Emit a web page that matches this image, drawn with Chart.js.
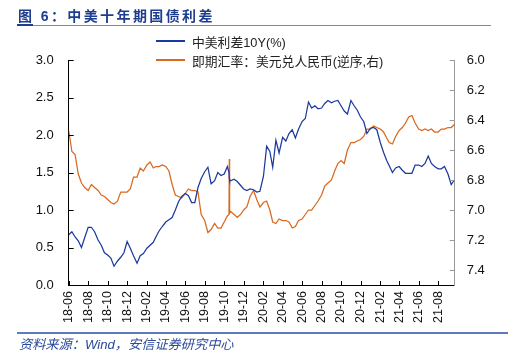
<!DOCTYPE html>
<html><head><meta charset="utf-8">
<script src="https://cdn.jsdelivr.net/npm/chart.js@4/dist/chart.umd.min.js"></script>
<style>
html,body{margin:0;padding:0;background:#fff;width:508px;height:358px;overflow:hidden;}
#wrap{position:relative;width:508px;height:358px;}
canvas{position:absolute;left:0;top:0;}
.t{position:absolute;font-family:"Liberation Sans","Noto Sans CJK SC",sans-serif;white-space:nowrap;}
#title{left:18px;top:5px;font-size:14px;font-weight:bold;color:#1f3d8f;letter-spacing:2.4px;}
#tline{left:17px;top:25px;width:474px;height:1px;background:#6f8cc8;}
#tmark{left:17px;top:24px;width:16px;height:2px;background:#1f3d8f;}
#sline{left:17px;top:332px;width:491px;height:2px;background:#5b7bbd;}
#src{left:19px;top:334px;font-size:13.2px;font-style:italic;color:#2a4a9a;}
.lg{position:absolute;height:2px;width:29px;left:156px;}
.lt{left:192px;font-size:12.8px;color:#222;}
</style></head>
<body><div id="wrap">
<canvas id="c" width="508" height="358"></canvas>
<div class="t" id="title">图 6：中美十年期国债利差</div>
<div class="t" id="tline"></div><div class="t" id="tmark"></div>
<div class="lg" style="top:40px;background:#1c3a9e"></div>
<div class="t lt" style="top:32px">中美利差10Y(%)</div>
<div class="lg" style="top:59px;background:#d8691f"></div>
<div class="t lt" style="top:51px">即期汇率：美元兑人民币(逆序,右)</div>
<div class="t" id="sline"></div>
<div class="t" id="src">资料来源：Wind，安信证券研究中心</div>
</div>
<script>
const dates = [
'2018-06-01','2018-06-11','2018-06-21','2018-07-01','2018-07-11','2018-07-21','2018-08-01','2018-08-11','2018-08-21',
'2018-09-01','2018-09-11','2018-09-21','2018-10-01','2018-10-11','2018-10-21','2018-11-01','2018-11-11','2018-11-21',
'2018-12-01','2018-12-11','2018-12-21','2019-01-01','2019-01-11','2019-01-21','2019-02-01','2019-02-11','2019-02-21',
'2019-03-01','2019-03-11','2019-03-21','2019-04-01','2019-04-11','2019-04-21','2019-05-01','2019-05-11','2019-05-21',
'2019-06-01','2019-06-11','2019-06-21','2019-07-01','2019-07-11','2019-07-21','2019-08-01','2019-08-11','2019-08-21',
'2019-09-01','2019-09-11','2019-09-21','2019-10-01','2019-10-11','2019-10-16','2019-10-17','2019-10-18','2019-10-21',
'2019-11-01','2019-11-11','2019-11-21','2019-12-01','2019-12-11','2019-12-21','2020-01-01','2020-01-11','2020-01-21',
'2020-02-01','2020-02-11','2020-02-21','2020-03-01','2020-03-11','2020-03-21','2020-04-01','2020-04-11','2020-04-21',
'2020-05-01','2020-05-11','2020-05-21','2020-06-01','2020-06-11','2020-06-21','2020-07-01','2020-07-11','2020-07-21',
'2020-08-01','2020-08-11','2020-08-21','2020-09-01','2020-09-11','2020-09-21','2020-10-01','2020-10-11','2020-10-21',
'2020-11-01','2020-11-11','2020-11-21','2020-12-01','2020-12-11','2020-12-21','2021-01-01','2021-01-11','2021-01-21',
'2021-02-01','2021-02-11','2021-02-21','2021-03-01','2021-03-11','2021-03-21','2021-04-01','2021-04-11','2021-04-21',
'2021-05-01','2021-05-11','2021-05-21','2021-06-01','2021-06-11','2021-06-21','2021-07-01','2021-07-11','2021-07-21',
'2021-08-01','2021-08-11','2021-08-21','2021-09-01','2021-09-11','2021-09-21'
];
const spread10Y = [
0.67,0.71,0.64,0.59,0.50,0.63,0.77,0.77,0.71,
0.60,0.53,0.43,0.40,0.36,0.25,0.32,0.37,0.43,
0.58,0.49,0.39,0.29,0.39,0.42,0.49,0.53,0.57,
0.64,0.72,0.78,0.84,0.87,0.90,1.00,1.11,1.18,
1.22,1.19,1.10,1.10,1.30,1.42,1.51,1.57,1.35,
1.39,1.50,1.46,1.48,1.58,1.50,1.42,1.40,1.39,
1.41,1.38,1.33,1.28,1.26,1.28,1.27,1.24,1.25,
1.45,1.85,1.78,1.57,1.93,1.76,1.97,1.92,2.02,
2.07,1.96,2.08,2.18,2.22,2.44,2.36,2.39,2.35,
2.36,2.42,2.46,2.43,2.45,2.46,2.39,2.32,2.28,
2.46,2.39,2.33,2.24,2.18,2.02,2.09,2.10,2.07,
1.90,1.77,1.66,1.59,1.50,1.56,1.58,1.53,1.49,
1.49,1.49,1.60,1.60,1.58,1.62,1.72,1.62,1.58,
1.55,1.55,1.58,1.48,1.34,1.40
];
const usdcny = [
6.47,6.61,6.63,6.76,6.82,6.85,6.87,6.83,6.85,
6.87,6.90,6.91,6.93,6.95,6.96,6.94,6.88,6.88,
6.88,6.86,6.78,6.78,6.72,6.74,6.70,6.68,6.72,
6.71,6.71,6.70,6.71,6.74,6.83,6.90,6.91,6.92,
6.89,6.86,6.87,6.87,6.88,7.03,7.07,7.15,7.13,
7.09,7.12,7.12,7.08,7.04,7.03,6.66,7.02,7.01,
7.03,7.05,7.03,7.00,6.98,6.91,6.87,6.93,6.98,
6.95,6.94,7.00,7.08,7.09,7.06,7.07,7.07,7.08,
7.12,7.11,7.07,7.06,7.03,7.00,7.00,6.97,6.94,
6.90,6.84,6.82,6.80,6.74,6.69,6.67,6.69,6.60,
6.55,6.55,6.54,6.53,6.51,6.46,6.46,6.44,6.45,
6.46,6.48,6.52,6.55,6.56,6.51,6.47,6.45,6.42,
6.38,6.37,6.42,6.46,6.47,6.46,6.47,6.46,6.48,
6.48,6.46,6.46,6.45,6.45,6.43
];
const xTickLabels = ['18-06','18-08','18-10','18-12','19-02','19-04','19-06','19-08','19-10','19-12',
'20-02','20-04','20-06','20-08','20-10','20-12','21-02','21-04','21-06','21-08'];
const seriesNames = ['中美利差10Y(%)','即期汇率：美元兑人民币(逆序,右)'];
const xStart = '2018-06-01', xEnd = '2021-09-22';

const toT = s => Date.parse(s + 'T00:00:00Z');
const labT = l => Date.UTC(2000 + parseInt(l.slice(0,2)), parseInt(l.slice(3,5)) - 1, 1);
const labMap = {}; xTickLabels.forEach(l => labMap[labT(l)] = l);

const FONT = {family:'"Liberation Sans","Noto Sans CJK SC",sans-serif', size:13};

const inwardTicks = {
  id:'inwardTicks',
  afterDraw(chart){
    const ctx = chart.ctx, a = chart.chartArea;
    ctx.save(); ctx.lineWidth = 1;
    const x = chart.scales.x, y = chart.scales.y, y2 = chart.scales.y2;
    ctx.strokeStyle = '#000';
    x.ticks.forEach(t => { const p = Math.round(x.getPixelForValue(t.value)) + 0.5;
      ctx.beginPath(); ctx.moveTo(p, a.bottom); ctx.lineTo(p, a.bottom - 4); ctx.stroke(); });
    y.ticks.forEach(t => { const p = Math.round(y.getPixelForValue(t.value)) + 0.5;
      ctx.beginPath(); ctx.moveTo(a.left, p); ctx.lineTo(a.left + 5, p); ctx.stroke(); });
    ctx.strokeStyle = '#999';
    y2.ticks.forEach(t => { const p = Math.round(y2.getPixelForValue(t.value)) + 0.5;
      ctx.beginPath(); ctx.moveTo(a.right, p); ctx.lineTo(a.right - 5, p); ctx.stroke(); });
    ctx.restore();
  }
};

new Chart(document.getElementById('c'), {
  type:'line',
  data:{datasets:[
    {label:seriesNames[0], data:dates.map((d,i)=>({x:toT(d), y:spread10Y[i]})), yAxisID:'y',
     borderColor:'#1c3a9e', borderWidth:1.25, pointRadius:0, tension:0},
    {label:seriesNames[1], data:dates.map((d,i)=>({x:toT(d), y:usdcny[i]})), yAxisID:'y2',
     borderColor:'#d8691f', borderWidth:1.25, pointRadius:0, tension:0}
  ]},
  options:{
    responsive:false, animation:false, devicePixelRatio:1,
    layout:{padding:{top:60,left:0,right:0,bottom:0}},
    plugins:{legend:{display:false}, tooltip:{enabled:false}},
    scales:{
      x:{type:'linear', min:toT(xStart), max:toT(xEnd),
        afterBuildTicks:s => { s.ticks = xTickLabels.map(l => ({value:labT(l)})); },
        afterFit:s => { s.height = 73; },
        grid:{display:false, drawTicks:false},
        border:{display:true, color:'#000', width:1},
        ticks:{autoSkip:false, maxRotation:90, minRotation:90, padding:6, color:'#111', font:{...FONT, size:12.5},
          callback:v => labMap[v] || ''}},
      y:{position:'left', min:0, max:3, 
        afterFit:s => { s.width = 68.7; },
        grid:{display:false, drawTicks:false},
        border:{display:true, color:'#000', width:1},
        ticks:{stepSize:0.5, padding:15, color:'#111', font:FONT, callback:v => v.toFixed(1)}},
      y2:{position:'right', min:6.0, max:7.5, reverse:true,
        afterFit:s => { s.width = 53.3; },
        afterBuildTicks:s => { s.ticks = s.ticks.filter(t => t.value < 7.45); },
        grid:{display:false, drawTicks:false},
        border:{display:true, color:'#999', width:1},
        ticks:{stepSize:0.2, padding:12, color:'#111', font:FONT, callback:v => v.toFixed(1)}}
    }
  },
  plugins:[inwardTicks]
});
</script>
</body></html>
